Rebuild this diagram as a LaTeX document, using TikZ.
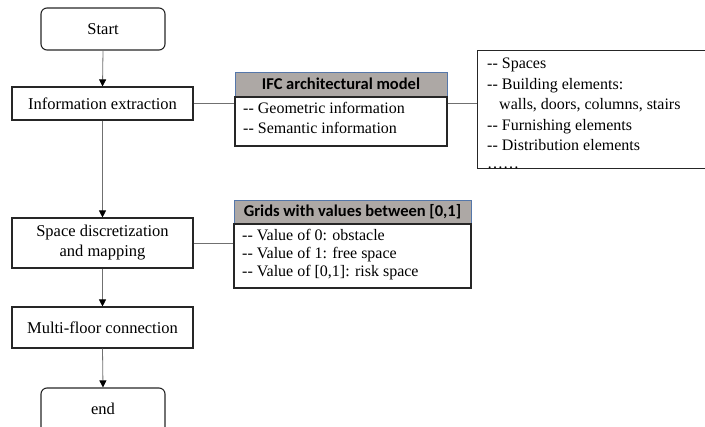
\documentclass[tikz,border=0pt]{standalone}
\usepackage{fontspec}
\setmainfont{Liberation Serif}
\newfontfamily\headfont{Carlito}
\usetikzlibrary{arrows.meta,positioning}
\definecolor{headfill}{HTML}{ADA8A5}
\definecolor{headline}{HTML}{5577AA}
\definecolor{linkgray}{HTML}{707070}
\newcommand{\dd}{-{}-}
\begin{document}
\begin{tikzpicture}[x=1pt,y=-1pt,
  every node/.style={font=\fontsize{16.5}{20}\selectfont},
  procbox/.style={draw=black!85,line width=1.1pt,minimum width=181pt,inner sep=0pt,align=center},
  termbox/.style={draw=black!85,line width=1.1pt,rounded corners=6pt,minimum width=124pt,inner sep=0pt},
  headbox/.style={draw=headline,line width=0.9pt,fill=headfill,inner sep=0pt,font=\headfont\bfseries\fontsize{16.5}{20}\selectfont},
  bodybox/.style={draw=black!85,line width=1.1pt,inner sep=0pt},
  listtext/.style={anchor=north west,align=left,inner sep=0pt,font=\fontsize{16}{20}\selectfont},
  flow/.style={draw=linkgray,line width=0.8pt,-{Triangle[length=7pt,width=7pt,color=black]}},
  link/.style={draw=linkgray,line width=0.8pt}]
\useasboundingbox (0,0) rectangle (705,427);

% main flow
\node[termbox,minimum height=42pt] (start) at (103,29) {Start};
\node[procbox,minimum height=33pt] (info) at (102.5,103.5) {Information extraction};
\node[procbox,minimum height=50pt] (space) at (102.5,243) {Space discretization\\[0pt]and mapping};
\node[procbox,minimum height=41pt] (multi) at (102.5,327.5) {Multi-floor connection};
\node[termbox,minimum height=46pt,text depth=0pt] (finish) at (103,411) {};
\node (endlabel) at (103,409) {end};

\draw[flow] (start.south) -- (info.north);
\draw[flow] (info.south) -- (space.north);
\draw[flow] (space.south) -- (multi.north);
\draw[flow] (multi.south) -- (finish.north);

% IFC model box
\node[headbox,minimum width=212pt,minimum height=24pt] (ifchead) at (341,84) {IFC architectural model};
\node[bodybox,minimum width=212pt,minimum height=49pt,anchor=north] (ifcbody) at (ifchead.south) {};
\node[listtext] (ifctext) at (243,102) {\dd\ Geometric information\\[0pt]\dd\ Semantic information};

% element list box
\node[bodybox,minimum width=231pt,minimum height=118pt,anchor=north west] (elems) at (477,50) {};
\node[listtext] (elemtext) at (487,58) {\dd\ Spaces\\[0.5pt]\dd\ Building elements:\\[0.5pt]\hspace{12pt}walls, doors, columns, stairs\\[0.5pt]\dd\ Furnishing elements\\[0.5pt]\dd\ Distribution elements\\[-2pt]\ldots\ldots};

% grid box
\node[headbox,minimum width=237pt,minimum height=23pt] (gridhead) at (352.5,211.5) {Grids with values between [0,1]};
\node[bodybox,minimum width=237pt,minimum height=64pt,anchor=north] (gridbody) at (gridhead.south) {};
\node[listtext] (gridtext) at (242,229) {\dd\ Value of 0: obstacle\\[-2pt]\dd\ Value of 1: free space\\[-2pt]\dd\ Value of [0,1]: risk space};

% side links
\draw[link] (info.east) -- (info.east -| ifcbody.west);
\draw[link] (info.east -| ifcbody.east) -- (info.east -| elems.west);
\draw[link] (space.east) -- (space.east -| gridbody.west);
\end{tikzpicture}
\end{document}
